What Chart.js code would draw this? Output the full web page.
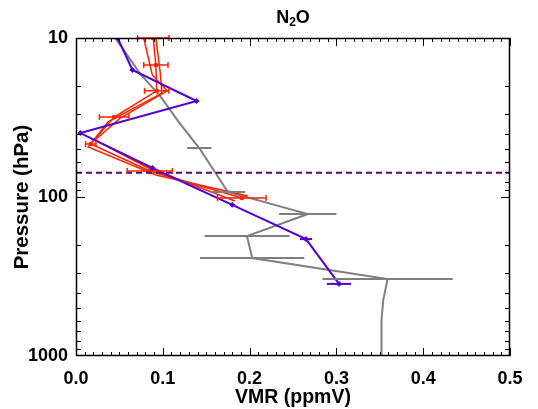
<!DOCTYPE html>
<html>
<head>
<meta charset="utf-8">
<script src="https://cdn.jsdelivr.net/npm/chart.js@4.4.0/dist/chart.umd.min.js"></script>
<style>
  html, body { margin: 0; padding: 0; background: #fff; }
  #wrap { position: relative; width: 538px; height: 409px; }
  #title { position: absolute; left: 76px; width: 434px; top: 7px; text-align: center;
           font: bold 18px "Liberation Sans", Arial, sans-serif; color: #000; }
  #title sub { font-size: 12px; vertical-align: -3px; }
</style>
</head>
<body>
<div id="wrap">
  <canvas id="c" width="538" height="409"></canvas>
  <div id="title">N<sub>2</sub>O</div>
</div>
<script>
// profiles (VMR in ppmV, pressure in hPa)
const grayVmr  = [0.045, 0.054, 0.074, 0.097, 0.120, 0.142, 0.154, 0.175, 0.267, 0.197, 0.203, 0.359, 0.354, 0.352, 0.352];
const grayPres = [10, 11.7, 16.8, 23.2, 34.7, 49.2, 62.0, 93.0, 128, 176, 242, 328, 444, 594, 1000];
const grayErr  = [0, 0, 0, 0, 0, 0.014, 0, 0.020, 0.033, 0.049, 0.060, 0.075, 0, 0, 0];

const purpleVmr  = [0.048, 0.065, 0.139, 0.005, 0.088, 0.180, 0.265, 0.303];
const purplePres = [10, 15.9, 24.9, 39.6, 65.7, 112, 184, 352];
const purpleErr  = [0, 0, 0, 0, 0, 0, 0.007, 0.014];

const redVmrA  = [0.089, 0.092, 0.093, 0.044, 0.017, 0.085, 0.191];
const redPresA = [10, 14.8, 21.5, 31.4, 46.4, 68.6, 101.5];
const redErrA  = [0.018, 0.014, 0.014, 0.017, 0.006, 0.026, 0.028];
const redVmrB  = [0.078, 0.088, 0.105, 0.051, 0.022, 0.081, 0.183];
const redPresB = [10, 17.1, 21.5, 31.9, 43.8, 64.8, 106];
const redVmrC  = [0.092, 0.097, 0.099, 0.037, 0.014, 0.092, 0.198];
const redPresC = [10, 16.4, 22.2, 33.7, 48.5, 72.7, 98.6];

const tropoPres = 70.3;
const xTicks = [0, 0.1, 0.2, 0.3, 0.4, 0.5];
const yTicks = [10, 100, 1000];

const GRAY = '#7f7f7f', PURPLE = '#5200d6', RED = '#ff2200', DASH = '#4f0a78';
const FONT = '"Liberation Sans", Arial, sans-serif';

function pts(xs, ys) { return xs.map((x, i) => ({ x: x, y: ys[i] })); }

function lineDs(data, color, width, marker, radius, err, caps) {
  return {
    data: data, showLine: true, borderColor: color, backgroundColor: color,
    borderWidth: width, pointStyle: marker, pointRadius: radius, pointBorderWidth: 1,
    xErr: err, errCaps: caps
  };
}

// horizontal error bars, drawn through the scales
const errorBars = {
  id: 'errorBars',
  afterDatasetsDraw(chart) {
    const ctx = chart.ctx, xs = chart.scales.x;
    const order = chart.data.datasets.map((d, i) => i).reverse();
    order.forEach(i => {
      const ds = chart.data.datasets[i];
      if (!ds.xErr) return;
      const meta = chart.getDatasetMeta(i);
      ctx.save();
      ctx.strokeStyle = ds.borderColor;
      ctx.lineWidth = ds.borderWidth;
      ds.data.forEach((p, j) => {
        const e = ds.xErr[j];
        if (!e) return;
        const y = meta.data[j].y;
        const x0 = xs.getPixelForValue(p.x - e), x1 = xs.getPixelForValue(p.x + e);
        ctx.beginPath();
        ctx.moveTo(x0, y); ctx.lineTo(x1, y);
        if (ds.errCaps) {
          ctx.moveTo(x0, y - 3); ctx.lineTo(x0, y + 3);
          ctx.moveTo(x1, y - 3); ctx.lineTo(x1, y + 3);
        }
        ctx.stroke();
      });
      ctx.restore();
    });
  }
};

// box frame with inward ticks on all sides
const frame = {
  id: 'frame',
  afterDraw(chart) {
    const ctx = chart.ctx, a = chart.chartArea, xs = chart.scales.x, ys = chart.scales.y;
    ctx.save();
    ctx.strokeStyle = '#000';
    ctx.lineWidth = 1.5;
    ctx.strokeRect(a.left + 0.5, a.top + 0.5, a.right - a.left - 1, a.bottom - a.top - 1);
    ctx.lineWidth = 1;
    ctx.beginPath();
    for (let k = 0; k <= 50; k++) {
      const x = Math.round(xs.getPixelForValue(k / 100)) + 0.5;
      const len = k % 10 === 0 ? 8 : 4;
      ctx.moveTo(x, a.bottom); ctx.lineTo(x, a.bottom - len);
      ctx.moveTo(x, a.top); ctx.lineTo(x, a.top + len);
    }
    [10, 100].forEach(dec => {
      for (let m = 1; m <= 9; m++) {
        const y = Math.round(ys.getPixelForValue(m * dec)) + 0.5;
        const len = m === 1 ? 9 : 5;
        ctx.moveTo(a.left, y); ctx.lineTo(a.left + len, y);
        ctx.moveTo(a.right, y); ctx.lineTo(a.right - len, y);
      }
    });
    ctx.stroke();
    ctx.restore();
  }
};

new Chart(document.getElementById('c'), {
  type: 'scatter',
  data: {
    datasets: [
      { data: [{ x: 0, y: tropoPres }, { x: 0.5, y: tropoPres }], showLine: true, borderColor: DASH,
        borderWidth: 2, borderDash: [6, 4], pointRadius: 0 },
      lineDs(pts(purpleVmr, purplePres), PURPLE, 2, 'rectRot', 2.5, purpleErr, false),
      lineDs(pts(redVmrA, redPresA), RED, 1.5, 'rect', 2.2, redErrA, true),
      lineDs(pts(redVmrB, redPresB), RED, 1.5, 'rect', 0, null, false),
      lineDs(pts(redVmrC, redPresC), RED, 1.5, 'rect', 0, null, false),
      lineDs(pts(grayVmr, grayPres), GRAY, 2, 'cross', 0, grayErr, false)
    ]
  },
  options: {
    responsive: false,
    animation: false,
    devicePixelRatio: 1,
    layout: { padding: { top: 38, right: 28, left: 0, bottom: 0 } },
    plugins: { legend: { display: false }, tooltip: { enabled: false } },
    scales: {
      x: {
        type: 'linear', min: 0, max: 0.5,
        afterBuildTicks: s => { s.ticks = xTicks.map(v => ({ value: v })); },
        afterFit: s => { s.height = 53; },
        grid: { display: false, drawTicks: false },
        border: { display: false },
        ticks: { color: '#000', padding: 12, maxRotation: 0, font: { family: FONT, size: 18, weight: 'bold' },
                 callback: v => v.toFixed(1) },
        title: { display: true, text: 'VMR (ppmV)', color: '#000', padding: { top: 0, bottom: 0 },
                 font: { family: FONT, size: 19.5, weight: 'bold' } }
      },
      y: {
        type: 'logarithmic', min: 10, max: 1000, reverse: true,
        afterBuildTicks: s => { s.ticks = yTicks.map(v => ({ value: v })); },
        afterFit: s => { s.width = 76; },
        grid: { display: false, drawTicks: false },
        border: { display: false },
        ticks: { color: '#000', padding: 8, font: { family: FONT, size: 18, weight: 'bold' },
                 callback: v => String(v) },
        title: { display: true, text: 'Pressure (hPa)', color: '#000', padding: { top: 10, bottom: 0 },
                 font: { family: FONT, size: 20.5, weight: 'bold' } }
      }
    }
  },
  plugins: [errorBars, frame]
});
</script>
</body>
</html>
